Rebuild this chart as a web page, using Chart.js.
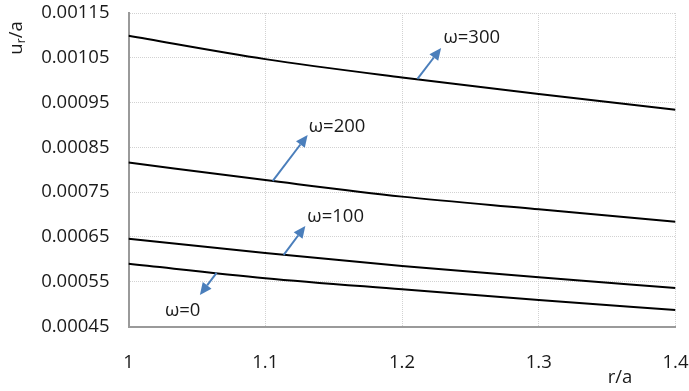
<!DOCTYPE html>
<html>
<head>
<meta charset="utf-8">
<script src="https://cdn.jsdelivr.net/npm/chart.js@4.4.1/dist/chart.umd.min.js"></script>
<style>
html,body{margin:0;padding:0;background:#fff;}
#wrap{width:689px;height:391px;position:relative;}
</style>
</head>
<body>
<div id="wrap"><canvas id="c" width="689" height="391"></canvas></div>
<script>
// ---- data ----
const rOverA = [1, 1.1, 1.2, 1.3, 1.4];
const seriesNames = ['ω=0', 'ω=100', 'ω=200', 'ω=300'];
const w0   = [0.000590, 0.000558, 0.000533, 0.000509, 0.000487];
const w100 = [0.000646, 0.000614, 0.000585, 0.000560, 0.000536];
const w200 = [0.000816, 0.000777, 0.000740, 0.000712, 0.000684];
const w300 = [0.001099, 0.001047, 0.001006, 0.000969, 0.000934];
const xTicks = [1, 1.1, 1.2, 1.3, 1.4];
const xTickLabels = ['1', '1.1', '1.2', '1.3', '1.4'];
const yTicks = [0.00045, 0.00055, 0.00065, 0.00075, 0.00085, 0.00095, 0.00105, 0.00115];
const yTickLabels = ['0.00045', '0.00055', '0.00065', '0.00075', '0.00085', '0.00095', '0.00105', '0.00115'];
// annotation arrows: [tailX, tailY, headX, headY], label anchor [x, y] (data units)
const arrowTails = [[1.0644, 0.0005696], [1.1135, 0.000610], [1.1055, 0.000775], [1.2113, 0.0010027]];
const arrowHeads = [[1.0522, 0.0005205], [1.1293, 0.0006746], [1.1310, 0.0008777], [1.2286, 0.0010719]];
const labelAnchors = [[1.0266, 0.0004855], [1.1308, 0.0006946], [1.1318, 0.0008955], [1.2303, 0.0010942]];

const FONT = '"Open Sans", "DejaVu Sans", sans-serif';
const FS = 18.5;
const TEXT = '#1a1a1a';
const ARROW = '#4a7ebb';

const allSeries = [w0, w100, w200, w300];
const datasets = allSeries.map((vals, i) => ({
  label: seriesNames[i],
  data: vals.map((v, j) => ({x: rOverA[j], y: v})),
  borderColor: '#000',
  borderWidth: 2,
  pointRadius: 0,
  fill: false,
  showLine: true,
  cubicInterpolationMode: 'monotone'
}));

const annotPlugin = {
  id: 'annot',
  afterDatasetsDraw(chart) {
    const ctx = chart.ctx;
    const xs = chart.scales.x, ys = chart.scales.y;
    ctx.save();
    for (let i = 0; i < arrowTails.length; i++) {
      const x1 = xs.getPixelForValue(arrowTails[i][0]), y1 = ys.getPixelForValue(arrowTails[i][1]);
      const x2 = xs.getPixelForValue(arrowHeads[i][0]), y2 = ys.getPixelForValue(arrowHeads[i][1]);
      const ang = Math.atan2(y2 - y1, x2 - x1);
      const hl = 12, hw = 5.5;
      const bx = x2 - hl * Math.cos(ang), by = y2 - hl * Math.sin(ang);
      ctx.strokeStyle = ARROW; ctx.fillStyle = ARROW; ctx.lineWidth = 2;
      ctx.beginPath(); ctx.moveTo(x1, y1); ctx.lineTo(bx, by); ctx.stroke();
      ctx.beginPath();
      ctx.moveTo(x2, y2);
      ctx.lineTo(bx + hw * Math.sin(ang), by - hw * Math.cos(ang));
      ctx.lineTo(bx - hw * Math.sin(ang), by + hw * Math.cos(ang));
      ctx.closePath(); ctx.fill();
      // label
      ctx.fillStyle = TEXT;
      ctx.font = FS + 'px ' + FONT;
      ctx.textAlign = 'left'; ctx.textBaseline = 'middle';
      ctx.fillText(seriesNames[i], xs.getPixelForValue(labelAnchors[i][0]), ys.getPixelForValue(labelAnchors[i][1]));
    }
    // axis titles
    ctx.fillStyle = TEXT;
    ctx.font = FS + 'px ' + FONT;
    ctx.textAlign = 'center'; ctx.textBaseline = 'middle';
    ctx.fillText('r/a', 620, 378);
    ctx.save();
    ctx.translate(17, 38);
    ctx.rotate(-Math.PI / 2);
    ctx.textAlign = 'left'; ctx.textBaseline = 'middle';
    const uW = ctx.measureText('u').width;
    const total = uW + 5 + ctx.measureText('/a').width;
    let sx = -total / 2;
    ctx.fillText('u', sx, 0);
    ctx.font = '12px ' + FONT;
    ctx.fillText('r', sx + uW, 5);
    ctx.font = FS + 'px ' + FONT;
    ctx.fillText('/a', sx + uW + 5, 0);
    ctx.restore();
    ctx.restore();
  }
};

new Chart(document.getElementById('c'), {
  type: 'scatter',
  data: {datasets},
  options: {
    responsive: false,
    animation: false,
    layout: {padding: {left: 0, right: 13.5, top: 13, bottom: 0}},
    plugins: {legend: {display: false}, tooltip: {enabled: false}},
    scales: {
      x: {
        type: 'linear', min: 1, max: 1.4,
        afterBuildTicks(s) { s.ticks = xTicks.map(v => ({value: v})); },
        afterFit(s) { s.height = 64.5; s.paddingLeft = 0; s.paddingRight = 0; },
        ticks: {
          callback: (v, i) => xTickLabels[i],
          font: {family: FONT, size: FS}, color: TEXT, padding: 25, maxRotation: 0
        },
        grid: {color: '#d2d2d2', lineWidth: 1, drawTicks: false},
        border: {color: '#9a9a9a', width: 2, dash: [1, 1]}
      },
      y: {
        type: 'linear', min: 0.00045, max: 0.00115,
        afterBuildTicks(s) { s.ticks = yTicks.map(v => ({value: v})); },
        afterFit(s) { s.width = 128.5; s.paddingTop = 0; s.paddingBottom = 0; },
        ticks: {
          callback: (v, i) => yTickLabels[i],
          font: {family: FONT, size: FS}, color: TEXT, padding: 19
        },
        grid: {color: '#d2d2d2', lineWidth: 1, drawTicks: false},
        border: {color: '#9a9a9a', width: 2, dash: [1, 1]}
      }
    }
  },
  plugins: [annotPlugin]
});
</script>
</body>
</html>
